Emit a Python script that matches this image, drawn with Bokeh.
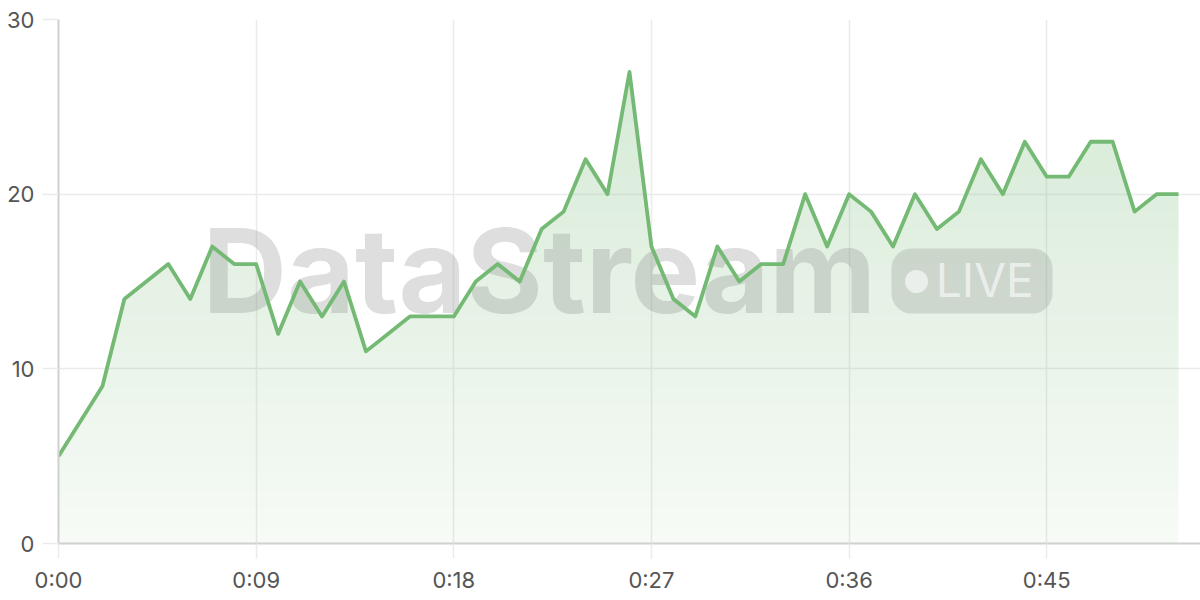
import numpy as np
from bokeh.plotting import figure
from bokeh.models import Range1d, FixedTicker
from bokeh.core.properties import value
from bokeh.embed import file_html
from bokeh.resources import INLINE

# ---- data ----
seconds = [0, 1, 2, 3, 4, 5, 6, 7, 8, 9, 10, 11, 12, 13, 14, 15, 16, 17, 18, 19,
           20, 21, 22, 23, 24, 25, 26, 27, 28, 29, 30, 31, 32, 33, 34, 35, 36, 37,
           38, 39, 40, 41, 42, 43, 44, 45, 46, 47, 48, 49, 50, 51]
values = [5, 7, 9, 14, 15, 16, 14, 17, 16, 16, 12, 15, 13, 15, 11, 12, 13, 13, 13, 15,
          16, 15, 18, 19, 22, 20, 27, 17, 14, 13, 17, 15, 16, 16, 20, 17, 20, 19,
          17, 20, 18, 19, 22, 20, 23, 21, 21, 23, 23, 19, 20, 20]
x_ticks = [0, 9, 18, 27, 36, 45]
x_tick_labels = ["0:00", "0:09", "0:18", "0:27", "0:36", "0:45"]
y_ticks = [0, 10, 20, 30]
watermark_title = "DataStream"
watermark_badge = "LIVE"

GREEN = "#74b974"
FONT = "Inter"
PX_PER_X = 1142 / 52.0   # frame width / x span
PX_PER_Y = 524 / 30.0    # frame height / y span

p = figure(width=1200, height=600, output_backend="svg", toolbar_location=None,
           x_range=Range1d(0, 52), y_range=Range1d(0, 30),
           min_border_left=58, min_border_right=0, min_border_top=19,
           min_border_bottom=57)
p.outline_line_color = None
p.background_fill_color = "white"
p.border_fill_color = "white"

# ---- vertical gradient fill: disjoint horizontal slices of the area ----
def slice_area(xs, ys, lo, hi):
    """Part of the area under the polyline that lies between lo and hi."""
    px = []
    for i in range(len(xs) - 1):
        x0, y0, x1, y1 = xs[i], ys[i], xs[i + 1], ys[i + 1]
        px.append(x0)
        cuts = []
        for lv in (lo, hi):
            if (y0 - lv) * (y1 - lv) < 0:
                cuts.append(x0 + (lv - y0) / (y1 - y0) * (x1 - x0))
        px.extend(sorted(cuts))
    px.append(xs[-1])
    px = np.array(px, dtype=float)
    top = np.interp(px, xs, ys)  # polyline height at the slice vertices
    return px, np.clip(top, lo, hi)

step = 1.0
lv = 0.0
while lv < max(values):
    sx, sy = slice_area(seconds, values, lv, lv + step)
    alpha = 0.06 + 0.0088 * (lv + step / 2)
    p.varea(x=sx, y1=lv, y2=sy, fill_color=GREEN, fill_alpha=alpha)
    lv += step

# ---- watermark ----
p.text(x=[6.56], y=[15.65], text=[watermark_title], text_font=value(FONT),
       text_font_style="bold", text_font_size="117px", text_color="#808080",
       text_alpha=0.26, text_baseline="alphabetic", text_align="left")

def rounded_rect(left, right, bottom, top, r_px):
    rx, ry = r_px / PX_PER_X, r_px / PX_PER_Y
    xs, ys = [], []
    corners = [(right - rx, top - ry, 0), (left + rx, top - ry, 90),
               (left + rx, bottom + ry, 180), (right - rx, bottom + ry, 270)]
    for cx, cy, a0 in corners:
        t = np.radians(np.linspace(a0, a0 + 90, 12))
        xs.extend(cx + rx * np.cos(t))
        ys.extend(cy + ry * np.sin(t))
    return xs, ys

bxs, bys = rounded_rect(37.93, 45.26, 13.17, 16.89, 20)
p.patch(bxs, bys, fill_color="#808080", fill_alpha=0.24, line_color=None)
p.scatter(x=[39.07], y=[15.0], size=23, marker="circle", fill_color="white",
          fill_alpha=0.6, line_color=None)
p.text(x=[39.95], y=[15.11], text=[watermark_badge], text_font=value(FONT),
       text_font_size="46px", text_color="white", text_alpha=0.6,
       text_baseline="alphabetic", text_align="left")

# ---- line ----
p.line(seconds, values, line_color=GREEN, line_width=3.8, line_join="round")

# ---- axes & grid ----
p.xaxis.ticker = FixedTicker(ticks=x_ticks)
p.xaxis.major_label_overrides = {t: l for t, l in zip(x_ticks, x_tick_labels)}
p.yaxis.ticker = FixedTicker(ticks=y_ticks)

for ax in (p.xaxis, p.yaxis):
    ax.axis_line_color = "#d0d0d0"
    ax.axis_line_width = 2
    ax.major_tick_line_color = "#ebebeb"
    ax.major_tick_line_width = 1.5
    ax.major_tick_in = 0
    ax.minor_tick_line_color = None
    ax.major_label_text_font = FONT
    ax.major_label_text_font_size = "22px"
    ax.major_label_text_color = "#555555"
p.yaxis.major_tick_out = 16
p.yaxis.major_label_standoff = 8
p.xaxis.major_tick_out = 15
p.xaxis.major_label_standoff = 8

p.xgrid.ticker = FixedTicker(ticks=x_ticks)
p.ygrid.ticker = FixedTicker(ticks=y_ticks)
p.grid.grid_line_color = "#ebebeb"
p.grid.grid_line_width = 1.5

open("out.html", "w").write(file_html(p, INLINE))
